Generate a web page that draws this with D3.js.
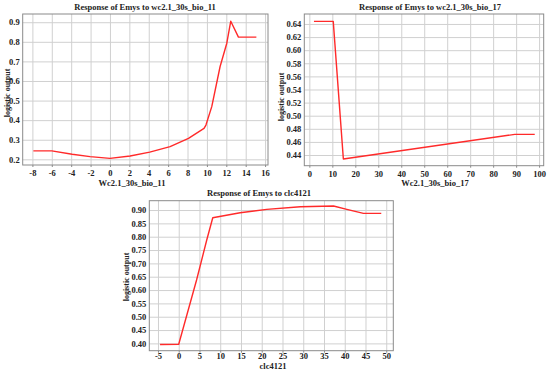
<!DOCTYPE html>
<html><head><meta charset="utf-8">
<script src="https://cdn.jsdelivr.net/npm/d3@7"></script>
<style>body{margin:0;background:#fff}svg{display:block}</style>
</head><body>
<svg id="c" width="550" height="370"></svg>
<script>
// Chart 1: wc2.1_30s_bio_11
const bio11X = [-7.9,-6.0,-3.9,-2.05,0.0,2.08,4.1,6.2,8.1,9.7,9.9,10.5,11.36,12.05,12.46,13.25,15.1];
const bio11Y = [0.243,0.243,0.226,0.214,0.205,0.217,0.237,0.265,0.307,0.358,0.375,0.469,0.674,0.793,0.905,0.824,0.824];
const bio11XTicks = [-8,-6,-4,-2,0,2,4,6,8,10,12,14,16];
const bio11YTicks = [0.2,0.3,0.4,0.5,0.6,0.7,0.8,0.9];
// Chart 2: wc2.1_30s_bio_17
const bio17X = [2,10.4,14.8,89.4,98.1];
const bio17Y = [0.644,0.644,0.434,0.4715,0.4715];
const bio17XTicks = [0,10,20,30,40,50,60,70,80,90,100];
const bio17YTicks = [0.44,0.46,0.48,0.50,0.52,0.54,0.56,0.58,0.60,0.62,0.64];
// Chart 3: clc4121
const clcX = [-4.5,0,4.3,6.75,8.2,14.8,21.2,29.3,37.3,40.5,44.5,48.8];
const clcY = [0.396,0.397,0.6375,0.7875,0.871,0.89,0.9025,0.9125,0.915,0.9025,0.8875,0.8875];
const clcXTicks = [-5,0,5,10,15,20,25,30,35,40,45,50];
const clcYTicks = [0.40,0.45,0.50,0.55,0.60,0.65,0.70,0.75,0.80,0.85,0.90];

const svg = d3.select("#c");
const FONT = "'Liberation Serif','Times New Roman',serif";

function panel(o){
  const x = d3.scaleLinear().domain(o.xd).range([o.l, o.r]);
  const y = d3.scaleLinear().domain(o.yd).range([o.b, o.t]);
  const g = svg.append("g");
  // grid
  g.append("g").attr("transform",`translate(0,${o.b})`)
    .call(d3.axisBottom(x).tickValues(o.xt).tickSize(-(o.b-o.t)).tickFormat(""))
    .call(s=>{s.select(".domain").remove(); s.selectAll("line").attr("stroke","#d0d0d0").attr("stroke-width",1);});
  g.append("g").attr("transform",`translate(${o.l},0)`)
    .call(d3.axisLeft(y).tickValues(o.yt).tickSize(-(o.r-o.l)).tickFormat(""))
    .call(s=>{s.select(".domain").remove(); s.selectAll("line").attr("stroke","#d0d0d0").attr("stroke-width",1);});
  // frame
  g.append("rect").attr("x",o.l).attr("y",o.t).attr("width",o.r-o.l).attr("height",o.b-o.t)
    .attr("fill","none").attr("stroke","#8a8a8a").attr("stroke-width",1);
  // tick labels
  g.append("g").attr("transform",`translate(0,${o.b})`)
    .call(d3.axisBottom(x).tickValues(o.xt).tickSize(2).tickPadding(o.xp).tickFormat(d=>String(d)))
    .call(s=>{s.select(".domain").remove(); s.selectAll("line").attr("stroke","#8a8a8a");
      s.selectAll("text").attr("font-family",FONT).attr("font-weight","bold").attr("font-size","8.5px").attr("fill","#222");});
  g.append("g").attr("transform",`translate(${o.l},0)`)
    .call(d3.axisLeft(y).tickValues(o.yt).tickSize(0).tickPadding(3).tickFormat(d3.format(o.yf)))
    .call(s=>{s.select(".domain").remove();
      s.selectAll("text").attr("font-family",FONT).attr("font-weight","bold").attr("font-size","8.5px").attr("fill","#222");});
  // line
  const pts = o.xs.map((v,i)=>[v,o.ys[i]]);
  g.append("path").datum(pts)
    .attr("d", d3.line().x(d=>x(d[0])).y(d=>y(d[1])))
    .attr("fill","none").attr("stroke","#ff2a2a").attr("stroke-width",1.4).attr("stroke-linejoin","round");
  // title
  g.append("text").attr("x",o.tx).attr("y",o.ty).attr("text-anchor","middle")
    .attr("font-family",FONT).attr("font-weight","bold").attr("font-size","8.5px").attr("fill","#222").text(o.title);
  g.append("text").attr("x",o.xlx).attr("y",o.xly).attr("text-anchor","middle")
    .attr("font-family",FONT).attr("font-weight","bold").attr("font-size","8.5px").attr("fill","#222").text(o.xlabel);
  g.append("text").attr("transform",`translate(${o.ylx},${o.yly}) rotate(-90)`).attr("text-anchor","middle")
    .attr("font-family",FONT).attr("font-weight","bold").attr("font-size","8px").attr("fill","#222").text("logistic output");
}

panel({l:22.7,r:268,t:14,b:165,xd:[-9,16.3],yd:[0.171,0.942],xt:bio11XTicks,yt:bio11YTicks,xp:3,yf:".1f",
  xs:bio11X,ys:bio11Y,title:"Response of Emys to wc2.1_30s_bio_11",tx:145,ty:9.5,
  xlabel:"Wc2.1_30s_bio_11",xlx:132,xly:185.5,ylx:10,yly:93});
panel({l:304.3,r:543.7,t:14,b:165.7,xd:[-2.2,102],yd:[0.4237,0.6552],xt:bio17XTicks,yt:bio17YTicks,xp:3,yf:".2f",
  xs:bio17X,ys:bio17Y,title:"Response of Emys to wc2.1_30s_bio_17",tx:430,ty:9.5,
  xlabel:"Wc2.1_30s_bio_17",xlx:435,xly:186,ylx:284,yly:97});
panel({l:149.3,r:393.3,t:200.7,b:350.7,xd:[-7.09,51.7],yd:[0.3726,0.935],xt:clcXTicks,yt:clcYTicks,xp:0,yf:".2f",
  xs:clcX,ys:clcY,title:"Response of Emys to clc4121",tx:259,ty:195.5,
  xlabel:"clc4121",xlx:273,xly:368.5,ylx:129,yly:277});
</script>
</body></html>
